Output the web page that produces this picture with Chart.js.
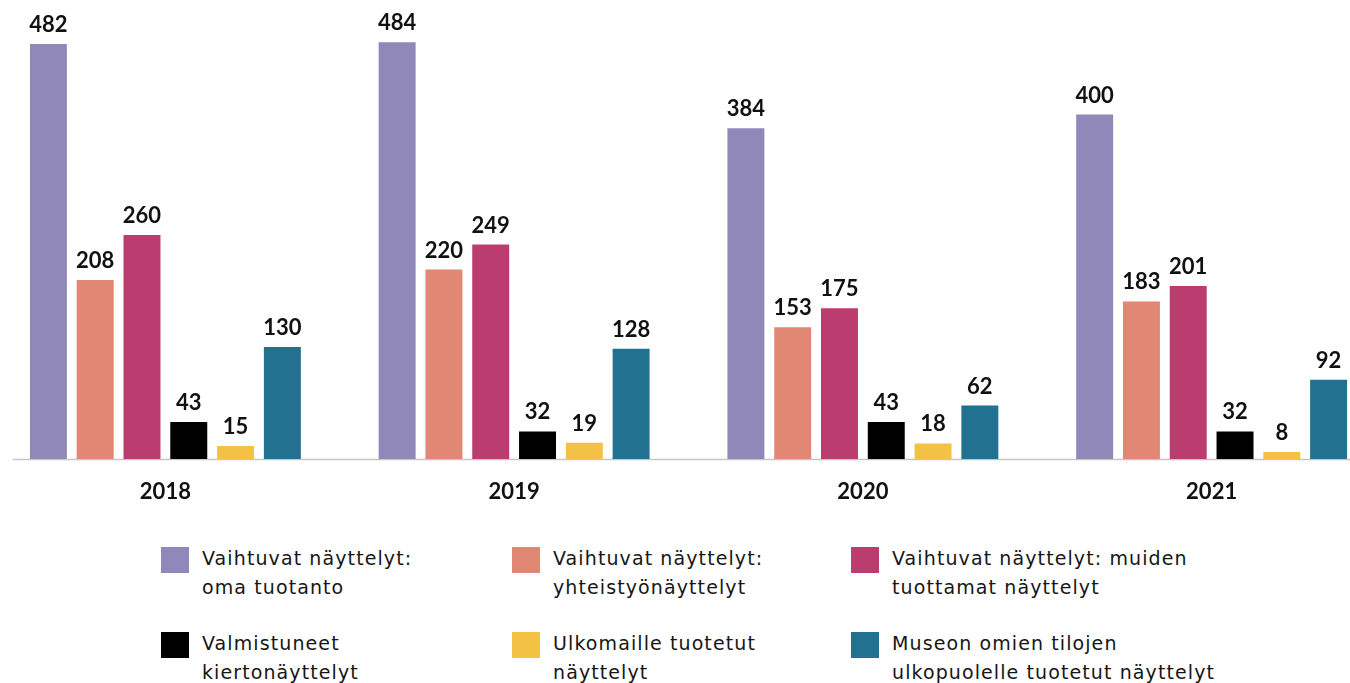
<!DOCTYPE html>
<html lang="fi">
<head>
<meta charset="utf-8">
<script src="https://cdn.jsdelivr.net/npm/chart.js@4.4.1/dist/chart.umd.min.js"></script>
<style>
  html, body { margin: 0; padding: 0; background: #fff; width: 1350px; height: 683px; overflow: hidden; }
  body { position: relative; font-family: Lato, "Noto Sans", sans-serif; color: #161616; }
  #chart { position: absolute; left: -9px; top: 0; }
  .legend-item { position: absolute; }
  .legend-box { position: absolute; width: 28px; height: 26px; }
  .legend-text { position: absolute; left: 41px; top: -3px; font-family: "DejaVu Sans", sans-serif; font-size: 19px; letter-spacing: 1.1px; line-height: 29px; white-space: nowrap; }
</style>
</head>
<body>
<canvas id="chart" width="1395" height="510"></canvas>
<div id="legend"></div>
<script>
const YEARS = ['2018', '2019', '2020', '2021'];
const SERIES_NAMES = [
  ['Vaihtuvat näyttelyt:', 'oma tuotanto'],
  ['Vaihtuvat näyttelyt:', 'yhteistyönäyttelyt'],
  ['Vaihtuvat näyttelyt: muiden', 'tuottamat näyttelyt'],
  ['Valmistuneet', 'kiertonäyttelyt'],
  ['Ulkomaille tuotetut', 'näyttelyt'],
  ['Museon omien tilojen', 'ulkopuolelle tuotetut näyttelyt'],
];
const OMA = [482, 484, 384, 400];
const YHTEISTYO = [208, 220, 153, 183];
const MUIDEN = [260, 249, 175, 201];
const KIERTO = [43, 32, 43, 32];
const ULKOMAILLE = [15, 19, 18, 8];
const ULKOPUOLELLE = [130, 128, 62, 92];
const COLORS = ['#9188ba', '#e08873', '#bb3c6f', '#000000', '#f3c245', '#227190'];

const seriesValues = [OMA, YHTEISTYO, MUIDEN, KIERTO, ULKOMAILLE, ULKOPUOLELLE];

// value labels above the bars
const valueLabels = {
  id: 'valueLabels',
  afterDatasetsDraw(chart) {
    const ctx = chart.ctx;
    ctx.save();
    ctx.font = 'bold 22px Lato, "Noto Sans", sans-serif';
    ctx.fillStyle = '#111';
    ctx.textAlign = 'center';
    ctx.textBaseline = 'alphabetic';
    chart.data.datasets.forEach((ds, i) => {
      chart.getDatasetMeta(i).data.forEach((bar, j) => {
        ctx.fillText(String(ds.data[j]), bar.x, bar.y - 12);
      });
    });
    ctx.restore();
  }
};

// thin grey baseline, starts a little inside the left edge like the original
const baseline = {
  id: 'baseline',
  beforeDatasetsDraw(chart) {
    const ctx = chart.ctx;
    const y = chart.scales.y.getPixelForValue(0);
    ctx.save();
    ctx.strokeStyle = '#c6c6c6';
    ctx.lineWidth = 1.5;
    ctx.beginPath();
    ctx.moveTo(22, y + 0.5);
    ctx.lineTo(chart.width, y + 0.5);
    ctx.stroke();
    ctx.restore();
  }
};

new Chart(document.getElementById('chart'), {
  type: 'bar',
  data: {
    labels: YEARS,
    datasets: seriesValues.map((vals, i) => ({
      label: SERIES_NAMES[i].join(' '),
      data: vals,
      backgroundColor: COLORS[i],
      borderWidth: 0,
      categoryPercentage: 0.805,
      barPercentage: 0.79,
    })),
  },
  options: {
    responsive: false,
    animation: false,
    layout: { padding: 0 },
    plugins: { legend: { display: false }, tooltip: { enabled: false } },
    scales: {
      x: {
        grid: { display: false, drawTicks: false },
        border: { display: false },
        ticks: { color: '#111', padding: 20, font: { family: 'Lato, "Noto Sans", sans-serif', size: 22, weight: 'bold' } },
        afterFit(scale) { scale.height = 51; },
      },
      y: { display: false, min: 0, max: 533 },
    },
  },
  plugins: [baseline, valueLabels],
});

// legend, three columns by two rows
const LEGEND_X = [161, 512, 851];
const LEGEND_Y = [547, 632];
const legendEl = document.getElementById('legend');
SERIES_NAMES.forEach((lines, i) => {
  const item = document.createElement('div');
  item.className = 'legend-item';
  item.style.left = LEGEND_X[i % 3] + 'px';
  item.style.top = LEGEND_Y[Math.floor(i / 3)] + 'px';
  item.innerHTML = `<div class="legend-box" style="background:${COLORS[i]}"></div>` +
    `<div class="legend-text">${lines.join('<br>')}</div>`;
  legendEl.appendChild(item);
});
</script>
</body>
</html>
